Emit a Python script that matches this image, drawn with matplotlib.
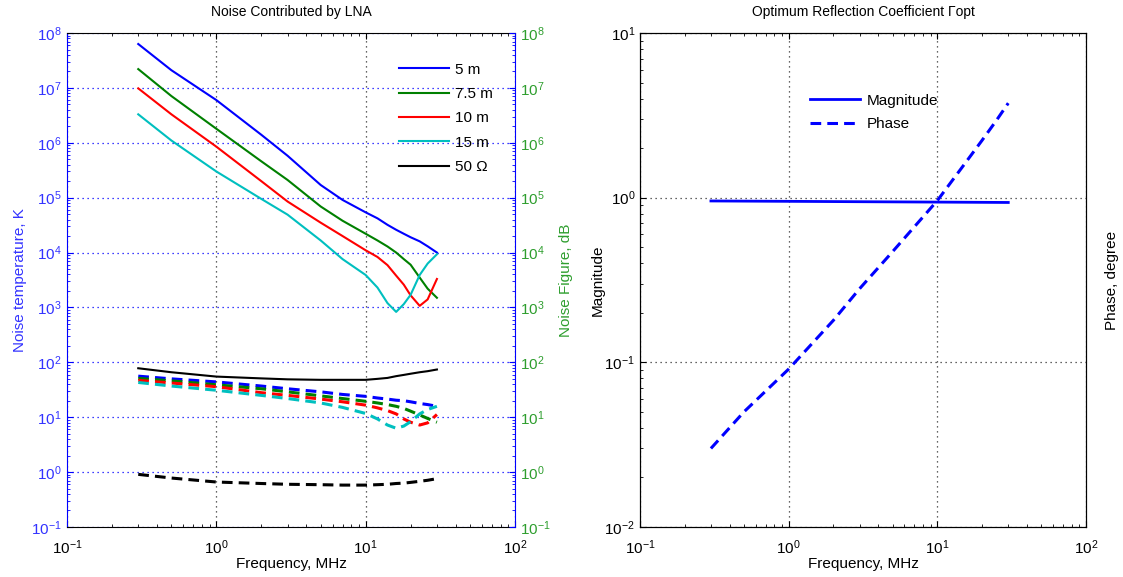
import matplotlib
matplotlib.use("Agg")
import matplotlib.pyplot as plt
from matplotlib.ticker import LogLocator, NullFormatter

plt.rcParams['font.family'] = ['Liberation Sans', 'DejaVu Sans']
plt.rcParams['mathtext.fontset'] = 'custom'
plt.rcParams['mathtext.rm'] = 'Liberation Sans'
plt.rcParams['mathtext.it'] = 'Liberation Sans'
plt.rcParams['axes.unicode_minus'] = False
plt.rcParams['font.size'] = 10

# frecuencias comunes (MHz)
freq = [0.3, 0.5, 1, 2, 3, 5, 7, 10, 12, 14, 16, 18, 20, 23, 26, 30]

# temperatura de ruido, K (lineas continuas)
t_5m = [6.3e7, 2.1e7, 6.0e6, 1.4e6, 5.8e5, 1.7e5, 9.1e4, 5.4e4, 4.2e4, 3.2e4, 2.6e4, 2.2e4, 1.9e4, 1.6e4, 1.3e4, 1.0e4]
t_75m = [2.2e7, 7.1e6, 1.8e6, 4.6e5, 2.1e5, 6.9e4, 3.8e4, 2.2e4, 1.66e4, 1.29e4, 1.0e4, 7.6e3, 6.0e3, 3.5e3, 2.2e3, 1.5e3]
t_10m = [9.8e6, 3.3e6, 8.5e5, 2.0e5, 8.5e4, 3.5e4, 2.0e4, 1.1e4, 8.3e3, 5.9e3, 3.8e3, 2.6e3, 1.66e3, 1.07e3, 1.4e3, 3.3e3]
t_15m = [3.3e6, 1.1e6, 3.0e5, 9.5e4, 4.9e4, 1.66e4, 7.6e3, 3.9e3, 2.3e3, 1.2e3, 830, 1.15e3, 1.7e3, 3.9e3, 6.3e3, 9.3e3]
t_50 = [78, 66, 55, 51, 49, 48, 48, 48, 50, 52, 56, 59, 62, 66, 69, 74]

# figura de ruido, dB (lineas discontinuas)
nf_5m = [56, 50, 44, 37, 33, 29, 26, 24, 22.4, 21.4, 20.4, 20.0, 19.1, 17.8, 17.0, 15.8]
nf_75m = [51, 46, 39, 33, 29, 24.5, 21.9, 19.5, 18.2, 17.0, 15.8, 14.5, 12.9, 11.0, 9.5, 8.1]
nf_10m = [47, 42, 36, 28, 25, 21.4, 19.1, 16.6, 14.8, 13.2, 11.5, 9.3, 8.1, 7.2, 7.9, 11.2]
nf_15m = [43, 37, 31, 25, 21.9, 18.2, 15.1, 11.7, 9.3, 7.2, 6.3, 6.9, 8.3, 11.5, 13.8, 15.8]
nf_50 = [0.91, 0.78, 0.66, 0.62, 0.60, 0.59, 0.58, 0.58, 0.59, 0.60, 0.62, 0.63, 0.65, 0.68, 0.71, 0.76]

labels = ['5 m', '7.5 m', '10 m', '15 m', '50 Ω']
colors = ['#0000ff', '#008000', '#ff0000', '#00bfbf', '#000000']

# coeficiente de reflexion optimo
freq_mag = [0.3, 1, 3, 10, 30]
magnitude = [0.955, 0.95, 0.945, 0.94, 0.935]
freq_ph = [0.3, 0.5, 1, 2, 3, 5, 10, 15, 20, 25, 30]
phase = [0.030, 0.050, 0.091, 0.18, 0.28, 0.47, 0.96, 1.57, 2.23, 2.95, 3.75]

fig = plt.figure(figsize=(11.23, 5.77), dpi=100)
ax1 = fig.add_axes([67/1123, 1 - 527/577, 448/1123, 494/577])
ax3 = fig.add_axes([640/1123, 1 - 527/577, 446/1123, 494/577])


def log_axis(ax, axis):
    a = ax.xaxis if axis == 'x' else ax.yaxis
    a.set_major_locator(LogLocator(base=10, numticks=20))
    a.set_minor_locator(LogLocator(base=10, subs=range(2, 10), numticks=20))
    a.set_minor_formatter(NullFormatter())


blue_lab = '#3333ff'
green_lab = '#2e9e2e'

# ---- grafica izquierda ----
temps = [t_5m, t_75m, t_10m, t_15m, t_50]
nfs = [nf_5m, nf_75m, nf_10m, nf_15m, nf_50]
for t, c, lab in zip(temps, colors, labels):
    ax1.plot(freq, t, color=c, lw=1.5, label=lab)
for nf, c in zip(nfs, colors):
    ax1.plot(freq, nf, color=c, lw=2.2, ls=(0, (3.5, 2)))

ax1.set_xscale('log')
ax1.set_yscale('log')
ax1.set_xlim(0.1, 100)
ax1.set_ylim(0.1, 1e8)
log_axis(ax1, 'x')
log_axis(ax1, 'y')
ax1.tick_params(which='both', direction='in', top=True, right=False)
ax1.tick_params(which='major', length=4)
ax1.tick_params(which='minor', length=2.5)
ax1.tick_params(axis='y', which='both', colors='blue', labelcolor=blue_lab, labelsize=11, pad=4)
ax1.tick_params(axis='x', labelsize=11, pad=8)
ax1.spines['left'].set_color('blue')
ax1.spines['right'].set_visible(False)
ax1.yaxis.grid(True, which='major', color='blue', ls=(0, (1, 3)), lw=0.9)
ax1.xaxis.grid(True, which='major', color='#333333', ls=(0, (1, 3)), lw=0.9)
ax1.set_title('Noise Contributed by LNA', fontsize=10, pad=12)
ax1.set_xlabel('Frequency, MHz', fontsize=11, labelpad=0)
ax1.set_ylabel('Noise temperature, K', color=blue_lab, fontsize=11, labelpad=3)
ax1.legend(loc='upper left', bbox_to_anchor=(0.71, 0.968), frameon=False,
           handlelength=3.3, handletextpad=0.4, labelspacing=0.68, fontsize=11)

ax2 = ax1.twinx()
ax2.set_yscale('log')
ax2.set_ylim(0.1, 1e8)
log_axis(ax2, 'y')
ax2.tick_params(which='both', direction='in', colors='blue', labelcolor=green_lab, labelsize=11)
ax2.tick_params(which='major', length=4)
ax2.tick_params(which='minor', length=2.5)
for s in ['left', 'top', 'bottom']:
    ax2.spines[s].set_visible(False)
ax2.spines['right'].set_color('blue')
ax2.set_ylabel('Noise Figure, dB', color=green_lab, fontsize=11, labelpad=6)

# ---- grafica derecha ----
ax3.plot(freq_mag, magnitude, color='#0000ff', lw=2, label='Magnitude')
ax3.plot(freq_ph, phase, color='#0000ff', lw=2.2, ls=(0, (3.5, 2)), label='Phase')
ax3.set_xscale('log')
ax3.set_yscale('log')
ax3.set_xlim(0.1, 100)
ax3.set_ylim(0.01, 10)
log_axis(ax3, 'x')
log_axis(ax3, 'y')
ax3.tick_params(which='both', direction='in', top=True, right=True, labelsize=11)
ax3.tick_params(which='major', length=4)
ax3.tick_params(which='minor', length=2.5)
ax3.tick_params(axis='x', pad=8)
ax3.grid(True, which='major', color='#333333', ls=(0, (1, 3)), lw=0.9)
ax3.set_title('Optimum Reflection Coefficient Γopt', fontsize=10, pad=12)
ax3.set_xlabel('Frequency, MHz', fontsize=11, labelpad=0)
ax3.set_ylabel('Magnitude', fontsize=11, labelpad=0)
ax3r = ax3.twinx()
ax3r.set_yticks([])
ax3r.set_ylabel('Phase, degree', fontsize=11, labelpad=14)
ax3.legend(loc='upper left', bbox_to_anchor=(0.35, 0.905), frameon=False,
           handlelength=3.3, handletextpad=0.4, labelspacing=0.62, fontsize=11)

fig.savefig('out.png', dpi=100)
